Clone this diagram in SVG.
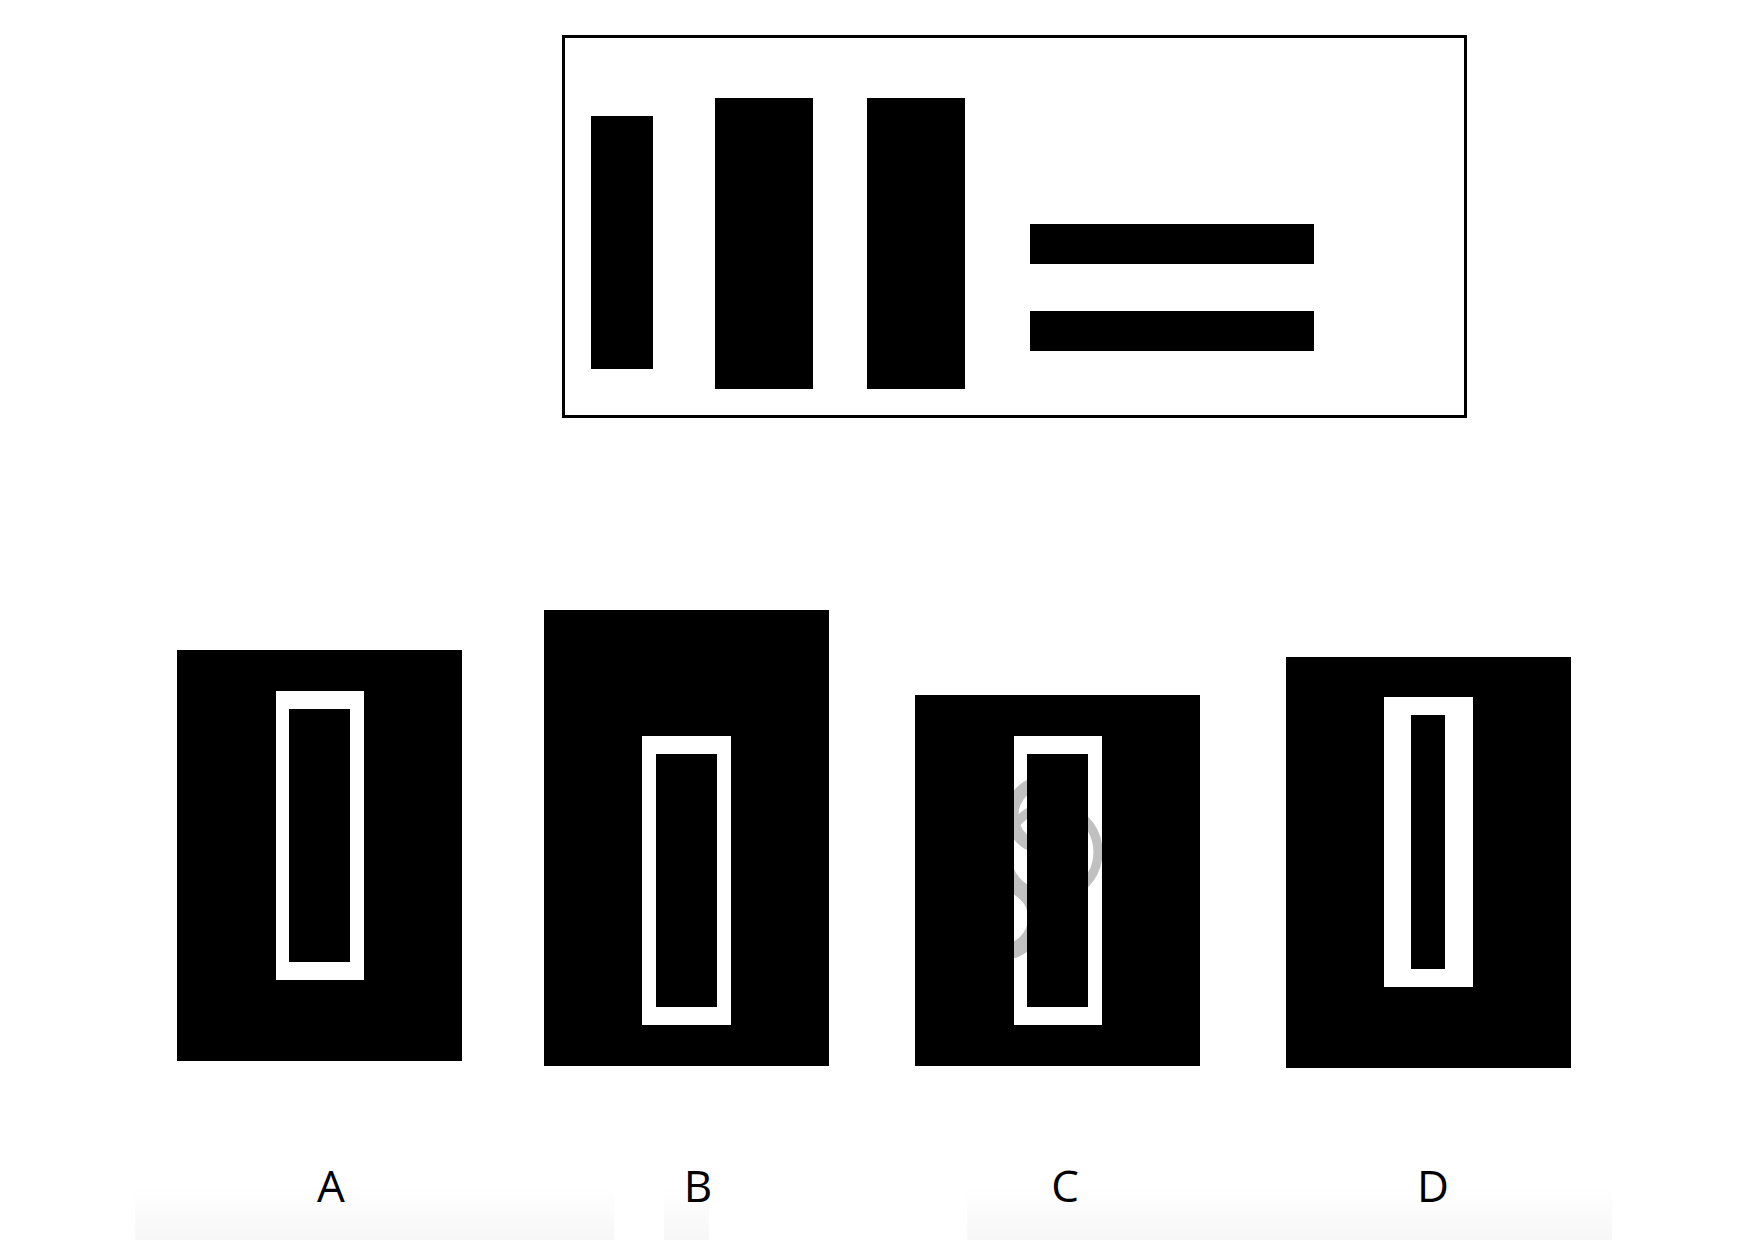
<svg xmlns="http://www.w3.org/2000/svg" width="1748" height="1240" viewBox="0 0 1748 1240">
  <style>
    .blk { fill: #000; }
    .wht { fill: #fff; }
    .frame { fill: none; stroke: #000; stroke-width: 3; }
    .ring { fill: none; stroke: #c0c0c0; }
    .lbl { font-family: "Open Sans", "Noto Sans", "Liberation Sans", sans-serif; font-size: 44px; fill: #000; text-anchor: middle; }
  </style>
  <defs>
    <linearGradient id="fade" x1="0" y1="0" x2="0" y2="1">
      <stop offset="0" stop-color="#ffffff"/>
      <stop offset="1" stop-color="#f7f7f7"/>
    </linearGradient>
    <clipPath id="cWhite">
      <rect x="1014" y="736" width="88" height="289"/>
    </clipPath>
  </defs>
  <rect width="1748" height="1240" fill="#fff"/>

  <g id="label-backdrops">
    <rect x="135" y="1186" width="479" height="54" fill="url(#fade)"/>
    <rect x="664" y="1186" width="45" height="54" fill="url(#fade)"/>
    <rect x="967" y="1186" width="645" height="54" fill="url(#fade)"/>
  </g>

  <g id="question">
    <rect class="frame" x="563.5" y="36.5" width="902" height="380"/>
    <rect class="blk" x="591" y="116" width="62" height="253"/>
    <rect class="blk" x="715" y="98" width="98" height="291"/>
    <rect class="blk" x="867" y="98" width="98" height="291"/>
    <rect class="blk" x="1030" y="224" width="284" height="40"/>
    <rect class="blk" x="1030" y="311" width="284" height="40"/>
  </g>

  <g id="optionA">
    <rect class="blk" x="177" y="650" width="285" height="411"/>
    <rect class="wht" x="276" y="691" width="88" height="289"/>
    <rect class="blk" x="289" y="709" width="61" height="253"/>
  </g>

  <g id="optionB">
    <rect class="blk" x="544" y="610" width="285" height="456"/>
    <rect class="wht" x="642" y="736" width="89" height="289"/>
    <rect class="blk" x="656" y="754" width="61" height="253"/>
  </g>

  <g id="optionC">
    <rect class="blk" x="915" y="695" width="285" height="371"/>
    <rect class="wht" x="1014" y="736" width="88" height="289"/>
    <g clip-path="url(#cWhite)">
      <circle class="ring" cx="1045" cy="815" r="33" stroke-width="13"/>
      <circle class="ring" cx="1052" cy="852" r="46" stroke-width="9"/>
      <circle class="ring" cx="1002" cy="918" r="34" stroke-width="16"/>
    </g>
    <rect class="blk" x="1027" y="754" width="61" height="253"/>
  </g>

  <g id="optionD">
    <rect class="blk" x="1286" y="657" width="285" height="411"/>
    <rect class="wht" x="1384" y="697" width="89" height="290"/>
    <rect class="blk" x="1411" y="715" width="34" height="254"/>
  </g>

  <g id="connectors"/>

  <g id="labels">
    <text class="lbl" x="331" y="1202">A</text>
    <text class="lbl" x="698" y="1202">B</text>
    <text class="lbl" x="1065" y="1202">C</text>
    <text class="lbl" x="1433" y="1202">D</text>
  </g>
</svg>
